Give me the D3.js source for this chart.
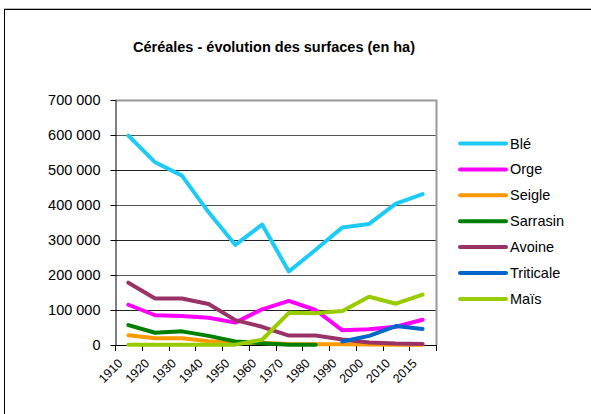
<!DOCTYPE html>
<html>
<head>
<meta charset="utf-8">
<script src="https://cdn.jsdelivr.net/npm/d3@7"></script>
<style>
  body { margin: 0; background: #fff; }
  svg { display: block; font-family: "Liberation Sans", Arial, sans-serif; }
</style>
</head>
<body>
<div id="chart"></div>
<script>
// categories (years)
var years = ['1910', '1920', '1930', '1940', '1950', '1960', '1970', '1980', '1990', '2000', '2010', '2015'];

// series values (ha), null = no data
var ble       = [598000, 522000, 484000, 379000, 286000, 344000, 210000, 272000, 336000, 346000, 404000, 431000];
var orge      = [115000, 85000, 83000, 78000, 64000, 102000, 126000, 100000, 42000, 45000, 52000, 72000];
var seigle    = [28000, 19000, 19000, 11000, 8000, 6000, 3000, 2000, 2000, 1500, 1000, 1000];
var sarrasin  = [57000, 35000, 39000, 26000, 10000, 5000, 1000, 1000, null, null, null, null];
var avoine    = [178000, 133000, 133000, 117000, 71000, 52000, 27000, 27000, 16000, 7000, 4000, 3000];
var triticale = [null, null, null, null, null, null, null, null, 10000, 26000, 54000, 46000];
var mais      = [1000, 1000, 1000, 1000, 1000, 15000, 92000, 91000, 97000, 138000, 118000, 144000];

var seriesNames = ['Blé', 'Orge', 'Seigle', 'Sarrasin', 'Avoine', 'Triticale', 'Maïs'];
var seriesValues = [ble, orge, seigle, sarrasin, avoine, triticale, mais];
var seriesColors = ['#1ecbf7', '#ff00ff', '#ff9900', '#008000', '#993366', '#0066cc', '#99cc00'];

var yTicks = [0, 100000, 200000, 300000, 400000, 500000, 600000, 700000];

var width = 591, height = 414;
var plot = { left: 115, right: 436, top: 100, bottom: 345 };

var fr = d3.formatLocale({ decimal: ',', thousands: ' ', grouping: [3], currency: ['', ' €'] });
var fmt = fr.format(',');

var svg = d3.select('#chart').append('svg')
  .attr('width', width)
  .attr('height', height);

// chart area border
svg.append('line')
  .attr('x1', 4).attr('x2', width).attr('y1', 8.5).attr('y2', 8.5)
  .attr('stroke', '#bbb');
svg.append('rect')
  .attr('x', 4.5).attr('y', 9.5)
  .attr('width', width + 10).attr('height', height + 10)
  .attr('fill', 'none').attr('stroke', '#000');

// title
svg.append('text')
  .attr('x', 274).attr('y', 52)
  .attr('text-anchor', 'middle')
  .attr('font-size', '14.5px')
  .attr('font-weight', 'bold')
  .text('Céréales - évolution des surfaces (en ha)');

var x = d3.scaleBand().domain(years).range([plot.left, plot.right]);
var y = d3.scaleLinear().domain([0, 700000]).range([plot.bottom, plot.top]);

// gridlines
svg.append('g')
  .selectAll('line')
  .data(yTicks.slice(1))
  .enter().append('line')
  .attr('x1', plot.left).attr('x2', plot.right)
  .attr('y1', function(d) { return Math.round(y(d)) + 0.5; })
  .attr('y2', function(d) { return Math.round(y(d)) + 0.5; })
  .attr('stroke', function(d, i) { return i % 2 ? '#555' : '#222'; });

// plot border (right + top in gray)
svg.append('path')
  .attr('d', 'M' + plot.left + ',' + (plot.top + 0.5) + 'H' + (plot.right + 0.5) + 'V' + plot.bottom)
  .attr('fill', 'none')
  .attr('stroke', '#999')
  .attr('stroke-width', 2);

// y axis
var yAxis = svg.append('g')
  .attr('transform', 'translate(' + (plot.left + 0.5) + ',0)')
  .call(d3.axisLeft(y).tickValues(yTicks).tickFormat(fmt).tickSize(5).tickSizeOuter(0));
yAxis.select('.domain').attr('stroke', '#000');
yAxis.selectAll('.tick line').attr('stroke', '#000');
yAxis.selectAll('text')
  .attr('font-size', '14.5px')
  .attr('font-family', '"Liberation Sans", Arial, sans-serif')
  .attr('fill', '#000')
  .attr('x', -15);

// x axis: ticks between categories
svg.append('line')
  .attr('x1', plot.left).attr('x2', plot.right + 1)
  .attr('y1', plot.bottom + 0.5).attr('y2', plot.bottom + 0.5)
  .attr('stroke', '#000');
var bounds = years.map(function(d) { return x(d); }).concat([plot.right]);
svg.append('g')
  .selectAll('line')
  .data(bounds)
  .enter().append('line')
  .attr('x1', function(d) { return Math.round(d) + 0.5; })
  .attr('x2', function(d) { return Math.round(d) + 0.5; })
  .attr('y1', plot.bottom).attr('y2', plot.bottom + 6)
  .attr('stroke', '#000');

svg.append('g')
  .selectAll('text')
  .data(years)
  .enter().append('text')
  .attr('transform', function(d) {
    return 'translate(' + (x(d) + x.bandwidth() / 2 - 5) + ',' + (plot.bottom + 19) + ') rotate(-45)';
  })
  .attr('text-anchor', 'end')
  .attr('font-size', '12.5px')
  .text(function(d) { return d; });

// lines
var line = d3.line()
  .defined(function(d) { return d !== null; })
  .x(function(d, i) { return x(years[i]) + x.bandwidth() / 2; })
  .y(function(d) { return y(d); });

svg.append('g')
  .selectAll('path')
  .data(seriesValues)
  .enter().append('path')
  .attr('d', line)
  .attr('fill', 'none')
  .attr('stroke', function(d, i) { return seriesColors[i]; })
  .attr('stroke-width', 4)
  .attr('stroke-linejoin', 'round')
  .attr('stroke-linecap', 'round');

// legend
var legend = svg.append('g')
  .selectAll('g')
  .data(seriesNames)
  .enter().append('g')
  .attr('transform', function(d, i) { return 'translate(460,' + (143.5 + i * 25.9) + ')'; });
legend.append('line')
  .attr('x1', 0).attr('x2', 46)
  .attr('stroke', function(d, i) { return seriesColors[i]; })
  .attr('stroke-width', 4)
  .attr('stroke-linecap', 'round');
legend.append('text')
  .attr('x', 50).attr('y', 5)
  .attr('font-size', '14.5px')
  .text(function(d) { return d; });
</script>
</body>
</html>
